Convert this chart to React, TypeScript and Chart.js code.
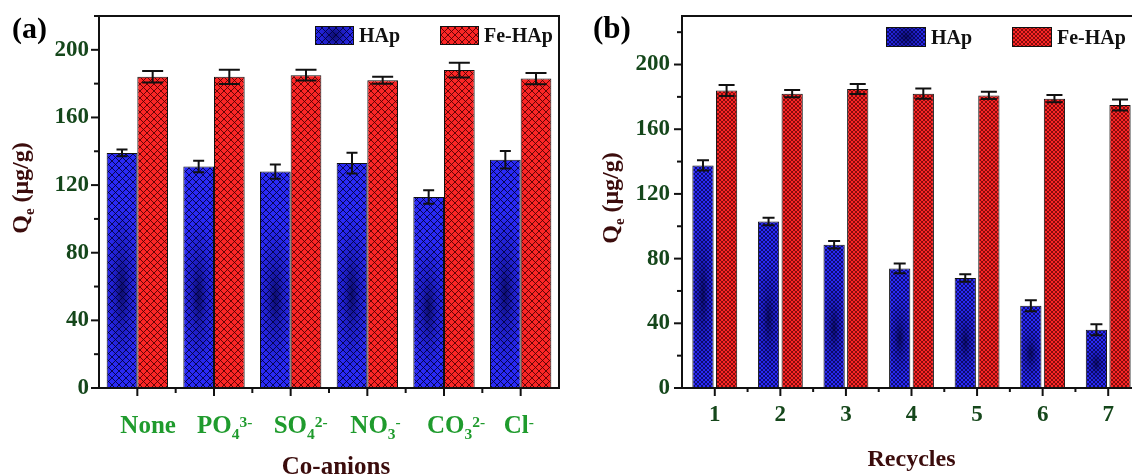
import React, { useEffect, useRef } from "react";
import { Chart, registerables } from "chart.js";
Chart.register(...registerables);

const FONT = '"Liberation Serif", "Times New Roman", serif';

// ---------- Data ----------
const ANIONS = ["None", "PO₄³⁻", "SO₄²⁻", "NO₃⁻", "CO₃²⁻", "Cl⁻"];
const HAP_ANION = [139, 131, 128, 133, 113, 135];
const HAP_ANION_ERR = [2, 3.4, 4.2, 6.2, 4, 5.2];
const FEHAP_ANION = [184, 184, 185, 182, 188, 183];
const FEHAP_ANION_ERR = [3.4, 4.2, 3.2, 2, 4.3, 3.3];

const CYCLES = ["1", "2", "3", "4", "5", "6", "7"];
const HAP_CYCLE = [137.6, 103, 88.6, 73.9, 68, 50.9, 36];
const HAP_CYCLE_ERR = [3.2, 2.3, 2.3, 3, 2.3, 3.4, 3.4];
const FEHAP_CYCLE = [184, 182, 184.9, 182, 180.9, 178.9, 175];
const FEHAP_CYCLE_ERR = [3.4, 2.3, 3.1, 3.2, 2.2, 2.2, 3.4];

const Y_TICKS_A = [0, 20, 40, 60, 80, 100, 120, 140, 160, 180, 200, 220];
const Y_TICKS_B = [0, 20, 40, 60, 80, 100, 120, 140, 160, 180, 200, 220];
const Y_MAX_A = 220;
const Y_MAX_B = 230;
const Y_LABEL_STEP = 40;

const SERIES_NAMES = ["HAp", "Fe-HAp"];
const Y_TITLE = "Qₑ (μg/g)";
const X_TITLE_A = "Co-anions";
const X_TITLE_B = "Recycles";

// ---------- Styles ----------
const C_TICK = "#15471b";
const C_XLAB_A = "#1f9b2d";
const C_TITLE = "#3b0c0c";
const C_INK = "#111111";

const SUB: Record<string, string> = {
  "₀": "0", "₁": "1", "₂": "2", "₃": "3", "₄": "4", "₅": "5", "₆": "6", "₇": "7", "₈": "8", "₉": "9", "ₑ": "e",
};
const SUP: Record<string, string> = {
  "⁰": "0", "¹": "1", "²": "2", "³": "3", "⁴": "4", "⁵": "5", "⁶": "6", "⁷": "7", "⁸": "8", "⁹": "9", "⁻": "-", "⁺": "+",
};

function drawRich(ctx: CanvasRenderingContext2D, text: string, x: number, y: number, size: number, align: "left" | "center") {
  const small = size * 0.62;
  const parts: { t: string; k: string; w: number }[] = [];
  for (const ch of Array.from(text)) {
    if (SUB[ch] !== undefined) parts.push({ t: SUB[ch], k: "sub", w: 0 });
    else if (SUP[ch] !== undefined) parts.push({ t: SUP[ch], k: "sup", w: 0 });
    else parts.push({ t: ch, k: "n", w: 0 });
  }
  let total = 0;
  for (const p of parts) {
    ctx.font = `bold ${p.k === "n" ? size : small}px ${FONT}`;
    p.w = ctx.measureText(p.t).width;
    total += p.w;
  }
  let cx = align === "center" ? x - total / 2 : x;
  ctx.textAlign = "left";
  ctx.textBaseline = "alphabetic";
  for (const p of parts) {
    ctx.font = `bold ${p.k === "n" ? size : small}px ${FONT}`;
    const dy = p.k === "sub" ? size * 0.24 : p.k === "sup" ? -size * 0.26 : 0;
    ctx.fillText(p.t, cx, y + dy);
    cx += p.w;
  }
}

function hatch(base: string, line: string, s: number, lw: number) {
  const c = document.createElement("canvas");
  c.width = s;
  c.height = s;
  const g = c.getContext("2d")!;
  g.fillStyle = base;
  g.fillRect(0, 0, s, s);
  g.strokeStyle = line;
  g.lineWidth = lw;
  g.beginPath();
  for (let k = -1; k <= 1; k++) {
    g.moveTo(k * s - 1, -1);
    g.lineTo(k * s + s + 1, s + 1);
    g.moveTo(k * s + s + 1, -1);
    g.lineTo(k * s - 1, s + 1);
  }
  g.stroke();
  return g.createPattern(c, "repeat")!;
}

function shade(ctx: CanvasRenderingContext2D, left: number, top: number, w: number, h: number, frac: number, alpha: number) {
  if (h <= 0) return;
  ctx.save();
  ctx.beginPath();
  ctx.rect(left, top, w, h);
  ctx.clip();
  const cx = left + w / 2;
  const cy = top + frac * h;
  const rx = w * 0.55;
  const ry = Math.max(h * 0.36, rx);
  ctx.translate(cx, cy);
  ctx.scale(1, ry / rx);
  const g = ctx.createRadialGradient(0, 0, 0, 0, 0, rx);
  g.addColorStop(0, `rgba(0,0,50,${alpha})`);
  g.addColorStop(0.45, `rgba(0,0,70,${alpha * 0.4})`);
  g.addColorStop(1, "rgba(0,0,70,0)");
  ctx.fillStyle = g;
  ctx.fillRect(-rx, -rx, 2 * rx, 2 * rx);
  ctx.restore();
}

type PanelCfg = {
  canvasX: number;
  canvasW: number;
  padRight: number;
  yAxisW: number;
  yPad: number;
  labels: string[];
  hap: number[];
  hapErr: number[];
  fe: number[];
  feErr: number[];
  yTicks: number[];
  yMax: number;
  catPct: number;
  barPct: number;
  capW: number[];
  richX: boolean;
  xTitle: string;
  xTitleSize: number;
  xTitleDx: number;
  xTitleDy: number;
  yTitleX: number;
  yTitleY: number;
  letter: string;
  letterX: number;
  letterSize: number;
  legendDx: number;
  legendDy: number;
  legendStep: number;
  swW: number;
  swH: number;
  hatchSize: number;
  hatchLw: number;
  xMinorLen: number;
};

const PANEL_A: PanelCfg = {
  canvasX: 0, canvasW: 576, padRight: 17, yAxisW: 99, yPad: 10,
  labels: ANIONS, hap: HAP_ANION, hapErr: HAP_ANION_ERR, fe: FEHAP_ANION, feErr: FEHAP_ANION_ERR,
  yTicks: Y_TICKS_A, yMax: Y_MAX_A, catPct: 0.8, barPct: 1, capW: [11, 21],
  richX: true, xTitle: X_TITLE_A, xTitleSize: 25, xTitleDx: 7, xTitleDy: 86,
  yTitleX: 28, yTitleY: 188, letter: "(a)", letterX: 12, letterSize: 30,
  legendDx: 216, legendDy: 10, legendStep: 125, swW: 39, swH: 19,
  hatchSize: 7, hatchLw: 1, xMinorLen: 5,
};

const PANEL_B: PanelCfg = {
  canvasX: 576, canvasW: 590, padRight: 25, yAxisW: 106, yPad: 12,
  labels: CYCLES, hap: HAP_CYCLE, hapErr: HAP_CYCLE_ERR, fe: FEHAP_CYCLE, feErr: FEHAP_CYCLE_ERR,
  yTicks: Y_TICKS_B, yMax: Y_MAX_B, catPct: 0.72, barPct: 0.9, capW: [12, 16],
  richX: false, xTitle: X_TITLE_B, xTitleSize: 24, xTitleDx: 0, xTitleDy: 78,
  yTitleX: 42, yTitleY: 198, letter: "(b)", letterX: 17, letterSize: 31,
  legendDx: 204, legendDy: 11, legendStep: 126, swW: 40, swH: 20,
  hatchSize: 4, hatchLw: 0.8, xMinorLen: 4,
};

function Panel({ cfg }: { cfg: PanelCfg }) {
  const ref = useRef<HTMLCanvasElement>(null);
  useEffect(() => {
    const canvas = ref.current!;
    const patHap = hatch("#2a2af6", "rgba(0,0,55,0.85)", cfg.hatchSize, cfg.hatchLw);
    const patFe = hatch("#fb2626", "rgba(75,0,0,0.85)", cfg.hatchSize, cfg.hatchLw);
    const pats = [patHap, patFe];

    const decor = {
      id: "decor",
      afterDatasetDraw(chart: any, args: any) {
        const ds = chart.data.datasets[args.index];
        if (!ds.shade) return;
        const ctx = chart.ctx as CanvasRenderingContext2D;
        for (const el of args.meta.data) {
          const p = el.getProps(["x", "y", "base", "width"], true);
          shade(ctx, p.x - p.width / 2, p.y, p.width, p.base - p.y, 0.58, 0.7);
        }
      },
      afterDatasetsDraw(chart: any) {
        const ctx = chart.ctx as CanvasRenderingContext2D;
        const area = chart.chartArea;
        const xs = chart.scales.x;
        const ys = chart.scales.y;
        ctx.save();
        // error bars
        ctx.strokeStyle = C_INK;
        ctx.lineWidth = 2;
        chart.data.datasets.forEach((ds: any, di: number) => {
          const meta = chart.getDatasetMeta(di);
          meta.data.forEach((el: any, i: number) => {
            const v = ds.data[i];
            const e = ds.errors[i];
            const x = el.x;
            const yt = ys.getPixelForValue(v + e);
            const yb = ys.getPixelForValue(v - e);
            const cw = cfg.capW[di] / 2;
            ctx.beginPath();
            ctx.moveTo(x, yt);
            ctx.lineTo(x, yb);
            ctx.moveTo(x - cw, yt);
            ctx.lineTo(x + cw, yt);
            ctx.moveTo(x - cw, yb);
            ctx.lineTo(x + cw, yb);
            ctx.stroke();
          });
        });
        // frame
        ctx.lineWidth = 2;
        ctx.strokeRect(area.left, area.top, area.right - area.left, area.bottom - area.top);
        // y ticks
        for (const v of cfg.yTicks) {
          const y = ys.getPixelForValue(v);
          const len = v % Y_LABEL_STEP === 0 ? 8 : 5;
          ctx.beginPath();
          ctx.moveTo(area.left, y);
          ctx.lineTo(area.left - len, y);
          ctx.stroke();
        }
        // x ticks
        const n = cfg.labels.length;
        for (let i = 0; i < n; i++) {
          const x = xs.getPixelForValue(i);
          ctx.beginPath();
          ctx.moveTo(x, area.bottom);
          ctx.lineTo(x, area.bottom + 8);
          ctx.stroke();
          if (i < n - 1) {
            const xm = (x + xs.getPixelForValue(i + 1)) / 2;
            ctx.beginPath();
            ctx.moveTo(xm, area.bottom);
            ctx.lineTo(xm, area.bottom + cfg.xMinorLen);
            ctx.stroke();
          }
        }
        // rich x labels
        if (cfg.richX) {
          ctx.fillStyle = C_XLAB_A;
          cfg.labels.forEach((lab, i) => {
            drawRich(ctx, lab, xs.getPixelForValue(i) - 17, area.bottom + 45, 25, "left");
          });
        }
        // x title
        ctx.fillStyle = C_TITLE;
        ctx.font = `bold ${cfg.xTitleSize}px ${FONT}`;
        ctx.textAlign = "center";
        ctx.textBaseline = "alphabetic";
        ctx.fillText(cfg.xTitle, (area.left + area.right) / 2 + cfg.xTitleDx, area.bottom + cfg.xTitleDy);
        // y title
        ctx.save();
        ctx.translate(cfg.yTitleX, cfg.yTitleY);
        ctx.rotate(-Math.PI / 2);
        ctx.fillStyle = C_TITLE;
        drawRich(ctx, Y_TITLE, 0, 0, 24, "center");
        ctx.restore();
        // panel letter
        ctx.fillStyle = "#000";
        ctx.font = `bold ${cfg.letterSize}px ${FONT}`;
        ctx.textAlign = "left";
        ctx.fillText(cfg.letter, cfg.letterX, 38);
        // legend
        chart.data.datasets.forEach((ds: any, di: number) => {
          const sx = area.left + cfg.legendDx + di * cfg.legendStep;
          const sy = area.top + cfg.legendDy;
          ctx.fillStyle = pats[di];
          ctx.fillRect(sx, sy, cfg.swW, cfg.swH);
          if (ds.shade) shade(ctx, sx, sy, cfg.swW, cfg.swH, 0.5, 0.7);
          ctx.lineWidth = 1;
          ctx.strokeStyle = C_INK;
          ctx.strokeRect(sx + 0.5, sy + 0.5, cfg.swW - 1, cfg.swH - 1);
          ctx.fillStyle = C_INK;
          ctx.font = `bold 20px ${FONT}`;
          ctx.textAlign = "left";
          ctx.fillText(ds.label, sx + cfg.swW + 5, sy + cfg.swH - 3);
        });
        ctx.restore();
      },
    };

    const chart = new Chart(canvas, {
      type: "bar",
      data: {
        labels: cfg.labels,
        datasets: [
          {
            label: SERIES_NAMES[0], data: cfg.hap, errors: cfg.hapErr, shade: true,
            backgroundColor: patHap, borderColor: C_INK, borderWidth: 1,
            barPercentage: cfg.barPct, categoryPercentage: cfg.catPct,
          } as any,
          {
            label: SERIES_NAMES[1], data: cfg.fe, errors: cfg.feErr, shade: false,
            backgroundColor: patFe, borderColor: C_INK, borderWidth: 1,
            barPercentage: cfg.barPct, categoryPercentage: cfg.catPct,
          } as any,
        ],
      },
      options: {
        responsive: false,
        animation: false,
        devicePixelRatio: 1,
        layout: { padding: { top: 16, right: cfg.padRight, left: 0, bottom: 0 } },
        plugins: { legend: { display: false }, tooltip: { enabled: false }, title: { display: false } },
        scales: {
          x: {
            type: "category",
            grid: { display: false, drawTicks: false },
            border: { display: false },
            ticks: {
              display: !cfg.richX,
              font: { family: FONT, size: 23, weight: "bold" },
              color: C_TICK,
              padding: 13,
              maxRotation: 0,
            },
            afterFit: (s: any) => {
              s.height = 88;
              s.paddingLeft = 0;
              s.paddingRight = 0;
            },
          },
          y: {
            type: "linear",
            min: 0,
            max: cfg.yMax,
            grid: { display: false, drawTicks: false },
            border: { display: false },
            afterBuildTicks: (s: any) => { s.ticks = cfg.yTicks.map((v) => ({ value: v })); },
            ticks: {
              font: { family: FONT, size: 23, weight: "bold" },
              color: C_TICK,
              padding: cfg.yPad,
              callback: (v: any) => (Number(v) % Y_LABEL_STEP === 0 ? String(v) : ""),
            },
            afterFit: (s: any) => {
              s.width = cfg.yAxisW;
              s.paddingTop = 0;
              s.paddingBottom = 0;
            },
          },
        },
      } as any,
      plugins: [decor as any],
    });
    return () => chart.destroy();
  }, [cfg]);
  return (
    <canvas
      ref={ref}
      width={cfg.canvasW}
      height={476}
      style={{ position: "absolute", left: cfg.canvasX, top: 0, width: cfg.canvasW, height: 476 }}
    />
  );
}

export default function App() {
  return (
    <div style={{ position: "fixed", left: 0, top: 0, width: 1132, height: 476, overflow: "hidden", background: "#fff" }}>
      <Panel cfg={PANEL_A} />
      <Panel cfg={PANEL_B} />
    </div>
  );
}
